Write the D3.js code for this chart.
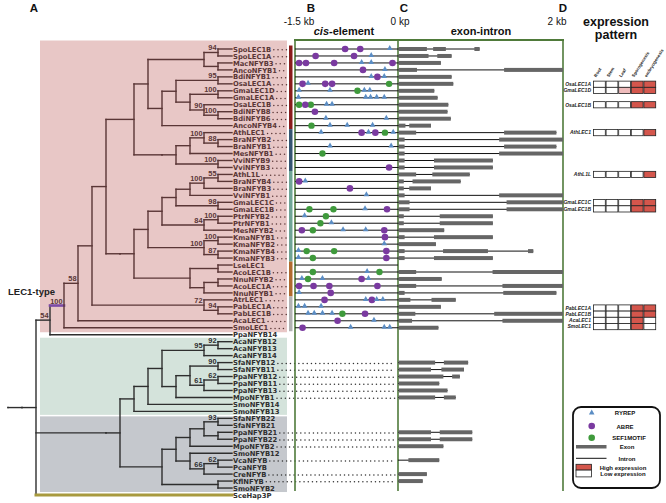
<!DOCTYPE html>
<html><head><meta charset="utf-8">
<script src="https://cdn.jsdelivr.net/npm/d3@7"></script>
<style>
body{margin:0;background:#fff}
svg{display:block}
text{font-family:"Liberation Sans",Arial,sans-serif}
.lbl{font-family:"DejaVu Sans",sans-serif}
</style>
</head><body>
<svg id="chart" width="666" height="503"></svg>
<script>
// ---------------- DATA ----------------
const leafNames = ["SpoLEC1B","SpoLEC1A","MacNFYB3","AncoNFYB1","BdiNFYB1","OsaLEC1A","GmaLEC1D","GmaLEC1A","OsaLEC1B","BdiNFYB8","BdiNFYB6","AncoNFYB4","AthLEC1","BraNFYB2","BraNFYB1","MesNFYB1","VviNFYB9","VviNFYB3","AthL1L","BraNFYB4","BraNFYB3","VviNFYB1","GmaLEC1C","GmaLEC1B","PtrNFYB2","PtrNFYB1","MesNFYB2","KmaNFYB1","KmaNFYB2","KmaNFYB4","KmaNFYB3","LseLEC1","AcoLEC1B","NnuNFYB2","AcoLEC1A","NnuNFYB1","AtrLEC1","PabLEC1A","PabLEC1B","AcaLEC1","SmoLEC1","PpaNFYB14","AcaNFYB12","AcaNFYB13","AcaNFYB14","SfaNFYB12","SfaNFYB11","PpaNFYB12","PpaNFYB11","PpaNFYB13","MpoNFYB1","SmoNFYB14","SmoNFYB13","SfaNFYB22","SfaNFYB21","PpaNFYB21","PpaNFYB22","MpoNFYB2","SmoNFYB12","VcaNFYB","PcaNFYB","CreNFYB","KflNFYB","SmoNFYB2","SceHap3P"];

// tree topology with bootstrap support as internal labels
const treeNewick = "((((((((((((SpoLEC1B,SpoLEC1A)94,(MacNFYB3,AncoNFYB1)),(((BdiNFYB1,OsaLEC1A)95,((GmaLEC1D,GmaLEC1A)100,(OsaLEC1B,(BdiNFYB8,BdiNFYB6)100)90)),AncoNFYB4)),((((AthLEC1,(BraNFYB2,BraNFYB1)88)100,MesNFYB1),(VviNFYB9,VviNFYB3)100))),((((((((AthL1L,BraNFYB4)55,BraNFYB3)100,VviNFYB1),(GmaLEC1C,GmaLEC1B)98),((PtrNFYB2,PtrNFYB1)100,MesNFYB2)84),((KmaNFYB1,KmaNFYB2)100,(KmaNFYB4,KmaNFYB3)87)100),((LseLEC1,AcoLEC1B),((NnuNFYB2,AcoLEC1A),NnuNFYB1))))),(AtrLEC1,(PabLEC1A,PabLEC1B)94)72),AcaLEC1)58,SmoLEC1)100,PpaNFYB14)54,(((((((AcaNFYB12,AcaNFYB13)92,AcaNFYB14)95,(((SfaNFYB12,SfaNFYB11)90,((PpaNFYB12,PpaNFYB11)62,PpaNFYB13)61),MpoNFYB1)),SmoNFYB14),SmoNFYB13),(((((SfaNFYB22,SfaNFYB21)93,(PpaNFYB21,PpaNFYB22)),MpoNFYB2),(SmoNFYB12,((VcaNFYB,PcaNFYB)62,CreNFYB)66)),(KflNFYB,SmoNFYB2)))),SceHap3P)";

// cis-elements (kb upstream, rows = first 41 leaves)
const ryrepSites = [[-0.12],[-0.39],[-0.53,-0.39],[-0.19],[-0.39,-0.20],[-1.31],[-1.44,-0.99,-0.49,-0.41],[-1.45,-0.47,-0.40,-0.31,-0.20],[-1.04,-0.96],[],[-1.05,-0.17],[-0.99,-0.74,-0.37],[-1.12,-0.43,-0.07],[],[-0.99,-0.10],[],[],[],[],[-1.35],[],[-0.46],[],[-0.48],[-1.36],[-0.97],[-0.80,-0.47],[],[-0.20],[-1.45],[-1.45],[],[-0.45],[-1.40,-1.10,-0.43],[],[-1.44],[-0.47,-0.31,-0.22],[-1.45,-1.36,-1.12],[-1.31,-1.22,-1.10,-0.96],[-0.35],[-0.69,-0.20,-0.12]];
const abreSites = [[-0.77,-0.55],[-1.20,-0.64],[-1.44,-1.34,-0.93,-0.08],[-0.51],[-0.30],[-1.39,-1.06,-0.96],[],[],[-1.35],[-1.21],[],[],[-0.53,-0.33],[],[],[],[],[-0.13],[],[-1.44],[-0.70],[],[],[-0.16],[],[],[-1.40,-0.20],[-0.19],[],[-0.17],[-0.17],[],[],[-0.53],[-1.44,-1.23,-1.00,-0.30],[-0.98],[-1.07,-0.38],[],[-0.48],[-0.88],[-1.39]];
const sef1Sites = [[],[],[],[],[],[-0.13],[-0.59],[],[-1.44,-1.27],[],[],[-1.26],[-0.19],[],[],[-1.10],[],[],[],[],[],[],[],[-1.29,-0.94],[-1.05],[-1.13],[-1.24],[],[],[-1.33,-0.93],[-1.24],[],[-1.24,-0.27],[-1.31],[],[],[],[],[-0.81],[],[]];

// exon positions (kb from ATG) per gene
const exonGenes = ["SpoLEC1B","SpoLEC1A","MacNFYB3","AncoNFYB1","BdiNFYB1","OsaLEC1A","GmaLEC1D","GmaLEC1A","OsaLEC1B","BdiNFYB8","BdiNFYB6","AncoNFYB4","AthLEC1","BraNFYB2","BraNFYB1","MesNFYB1","VviNFYB9","VviNFYB3","AthL1L","BraNFYB4","BraNFYB3","VviNFYB1","GmaLEC1C","GmaLEC1B","PtrNFYB2","PtrNFYB1","MesNFYB2","KmaNFYB1","KmaNFYB2","KmaNFYB4","KmaNFYB3","AcoLEC1B","NnuNFYB2","AcoLEC1A","NnuNFYB1","AtrLEC1","PabLEC1A","PabLEC1B","AcaLEC1","SmoLEC1","SfaNFYB12","SfaNFYB11","PpaNFYB12","PpaNFYB11","PpaNFYB13","MpoNFYB1","PpaNFYB21","PpaNFYB22","MpoNFYB2","VcaNFYB","CreNFYB","KflNFYB"];
const exonSpans = [
 [[0,0.35],[0.42,0.58],[0.92,0.99]],[[0,0.37],[0.47,0.65]],[[0,0.52]],[[0,0.23],[1.28,2.0]],[[0,0.65]],[[0,0.67]],[[0,0.44]],[[0,0.48]],[[0,0.61]],[[0,0.60]],[[0,0.64]],[[0,0.09],[0.13,0.40]],
 [[0,0.22],[1.28,1.92]],[[0,0.08],[1.22,2.0]],[[0,0.08],[1.28,1.92]],[[0,0.08],[1.22,2.0]],[[0,0.08],[0.43,1.15]],[[0,0.08],[0.43,1.15]],[[0,0.22],[0.41,0.87]],[[0,0.07],[0.17,0.76]],[[0,0.07],[0.13,0.40]],[[0,0.08],[1.22,2.0]],[[0,0.14],[1.31,2.0]],[[0,0.14],[1.31,2.0]],
 [[0,0.07],[0.50,1.15]],[[0,0.07],[0.50,1.15]],[[0,0.56]],[[0,0.08],[0.43,1.15]],[[0,0.46]],[[0,0.08],[0.54,1.09],[1.57,1.64]],[[0,0.08],[0.43,1.15]],
 [[0,0.22],[1.14,2.0]],[[0,0.53]],[[0,0.22],[1.26,2.0]],[[0,0.08],[1.27,1.92]],[[0,0.15],[0.40,0.70]],[[0,0.52]],[[0,0.21],[1.16,2.0]],[[0,0.17],[1.26,2.0]],[[0,0.49]],
 [[0,0.45],[0.55,0.85]],[[0,0.40],[0.52,0.80]],[[0,0.55],[0.65,0.75]],[[0,0.50]],[[0,0.60]],[[0,0.45],[0.55,0.70]],
 [[0,0.40],[0.50,0.90]],[[0,0.40],[0.50,0.90]],[[0,0.55]],[[0.12,0.50]],[[0,0.35]],[[0,0.30]]
];

// clade colour strip groups (first row index, last row index)
const stripGroups = [[0,11],[12,17],[18,30],[31,35],[36,40]];

// expression pattern
const exprTissues = ["Root","Stem","Leaf","Sporogenesis","embryogenesis"];
const exprGenes = ["OsaLEC1A","GmaLEC1D","OsaLEC1B","AthLEC1","AthL1L","GmaLEC1C","GmaLEC1B","PabLEC1A","PabLEC1B","AcaLEC1","SmoLEC1"];
const exprValues = [[0,0,0,1,1],[0,0,0.5,1,1],[0,0,0,1,1],[0,0,0,0,1],[0,0,0,0,1],[0,0,0,1,1],[0,0,0,1,1],[0,0,0,1,1],[0,0,0,1,1],[0,0,0,1,0],[0,0,0,1,0]];

// ---------------- CHART ----------------
const svg = d3.select("#chart");
const C = {brown:"#5a3636", dark:"#2e2e2e", pink:"#e8c7c6", green:"#d4e3db", gray:"#c5c8cd",
  frame:"#4f7a3a", exon:"#666666", tri:"#5b8dc4", abre:"#7a3aa0", sef:"#3f9a3c", red:"#d4564c"};
const strips = ["#8a1c1c","#355571","#6fa596","#b06a2e","#b3b3b3"];

const yRow = d3.scaleLinear().domain([0,64]).range([49,495]);
const rowOf = new Map(leafNames.map((n,i)=>[n,i]));

function parseNewick(s){
  let i=0;
  function node(){
    const n={};
    if(s[i]==='('){
      n.children=[]; i++;
      n.children.push(node());
      while(s[i]===','){i++; n.children.push(node());}
      i++;
    }
    let lab='';
    while(i<s.length && !',()'.includes(s[i])) lab+=s[i++];
    if(n.children){ if(lab) n.support=+lab; } else n.name=lab;
    return n;
  }
  return node();
}
const root = d3.hierarchy(parseNewick(treeNewick));
const maxH = root.height;
const xTree = d3.scaleLinear().domain([maxH,0]).range([8,232]);
root.eachAfter(d=>{
  d.x = xTree(d.height);
  if(!d.children) d.y = yRow(rowOf.get(d.data.name));
  else d.y = d3.mean([d.children[0].y, d.children[d.children.length-1].y]);
});
const lec1Node = root.leaves().find(l=>l.data.name==="SpoLEC1B").ancestors().find(a=>a.leaves().some(l=>l.data.name==="SmoLEC1"));
const inLec1 = new Set(lec1Node.descendants());

// backgrounds
const bgX0 = 40, bgX1 = 287;
svg.append("rect").attr("x",bgX0).attr("y",40.5).attr("width",bgX1-bgX0).attr("height",yRow(40)+4.5-40.5).attr("fill",C.pink);
svg.append("rect").attr("x",bgX0).attr("y",yRow(41)+3).attr("width",bgX1-bgX0).attr("height",yRow(52)+3.5-(yRow(41)+3)).attr("fill",C.green);
svg.append("rect").attr("x",bgX0).attr("y",yRow(52)+5).attr("width",bgX1-bgX0).attr("height",yRow(63)+4-(yRow(52)+5)).attr("fill",C.gray);

// strips
stripGroups.forEach((g,i)=>{
  svg.append("rect").attr("x",289).attr("width",3.5)
    .attr("y",yRow(g[0])-3.5).attr("height",yRow(g[1])-yRow(g[0])+7).attr("fill",strips[i]);
});

// tree branches
const gT = svg.append("g").attr("fill","none").attr("stroke-linecap","square");
root.descendants().forEach(d=>{
  const col = inLec1.has(d) ? C.brown : C.dark;
  if(d.parent){
    let stroke = inLec1.has(d)&&d!==lec1Node ? C.brown : C.dark, w=1.4;
    if(d===lec1Node){stroke="#7b4aa6"; w=2.6;}
    if(d.data.name==="SceHap3P"){stroke="#a89a3e"; w=3;}
    gT.append("line").attr("x1",d.parent.x).attr("x2",d.x).attr("y1",d.y).attr("y2",d.y)
      .attr("stroke",stroke).attr("stroke-width",w);
  }
  if(d.children){
    gT.append("line").attr("x1",d.x).attr("x2",d.x)
      .attr("y1",d.children[0].y).attr("y2",d.children[d.children.length-1].y)
      .attr("stroke",col).attr("stroke-width",1.4);
  }
});
root.descendants().filter(d=>d.data.support!=null).forEach(d=>{
  svg.append("text").attr("x",d.x-1.5).attr("y",d.y-2).attr("text-anchor","end")
    .attr("font-size",7.4).attr("font-weight","bold")
    .attr("fill",inLec1.has(d)||d===lec1Node.parent ? C.brown : C.dark).text(d.data.support);
});
svg.append("text").attr("x",55).attr("y",295).attr("text-anchor","end").attr("font-size",9.5)
  .attr("font-weight","bold").attr("fill","#222").text("LEC1-type");

// leaf labels + leader dots
const exonMap = new Map(exonGenes.map((g,i)=>[g,exonSpans[i]]));
root.leaves().forEach(l=>{
  const r = rowOf.get(l.data.name);
  const t = svg.append("text").attr("class","lbl").attr("x",l.x+1).attr("y",l.y+2.6).attr("font-size",6.8)
    .attr("font-weight","bold").attr("fill", r<=40 ? C.brown : C.dark).text(l.data.name);
  if(exonMap.has(l.data.name)){
    const end = l.x+1+t.node().getComputedTextLength();
    const lim = r<=40 ? 287 : 395;
    for(let x=end+2.5; x<=lim; x+=4.2){
      svg.append("circle").attr("cx",x).attr("cy",l.y+0.8).attr("r",0.75).attr("fill",r<=40?C.brown:"#333");
    }
  }
});

// frames for B and C
const xCis = d3.scaleLinear().domain([-1.5,0]).range([295,398]);
const xGene = d3.scaleLinear().domain([0,2]).range([398,563]);
const fr = svg.append("g").attr("stroke",C.frame).attr("stroke-width",1.6);
fr.append("line").attr("x1",294).attr("x2",564).attr("y1",40).attr("y2",40).attr("stroke-width",2.2);
[xCis(-1.5), xCis(0), xGene(2)].forEach(x=>fr.append("line").attr("x1",x).attr("x2",x).attr("y1",40).attr("y2",491));

// B rows
const gB = svg.append("g");
for(let r=0;r<=40;r++){
  const y = yRow(r);
  gB.append("line").attr("x1",xCis(-1.5)).attr("x2",xCis(0)).attr("y1",y).attr("y2",y).attr("stroke","#111").attr("stroke-width",1);
}
for(let r=0;r<=40;r++){
  const y = yRow(r);
  sef1Sites[r].forEach(k=>gB.append("circle").attr("cx",xCis(k)).attr("cy",y).attr("r",3.2).attr("fill",C.sef));
  abreSites[r].forEach(k=>gB.append("circle").attr("cx",xCis(k)).attr("cy",y).attr("r",3.3).attr("fill",C.abre));
  ryrepSites[r].forEach(k=>gB.append("path").attr("d",`M${xCis(k)},${y-4}l2.8,5h-5.6z`).attr("fill",C.tri));
}

// C rows
const gC = svg.append("g");
exonGenes.forEach((g,i)=>{
  const y = yRow(rowOf.get(g));
  const sp = exonSpans[i];
  const last = sp[sp.length-1][1];
  gC.append("line").attr("x1",xGene(0)).attr("x2",xGene(last)).attr("y1",y).attr("y2",y).attr("stroke","#111").attr("stroke-width",1);
  sp.forEach(s=>gC.append("rect").attr("x",xGene(s[0])+0.5).attr("width",xGene(s[1])-xGene(s[0])-0.5)
    .attr("y",y-2).attr("height",4).attr("fill",C.exon));
});

// headers
const hd = svg.append("g").attr("fill","#111");
[["A",34],["B",311],["C",404],["D",563]].forEach(([t,x])=>hd.append("text").attr("x",x).attr("y",12)
  .attr("text-anchor","middle").attr("font-size",11.5).attr("font-weight","bold").text(t));
hd.append("text").attr("x",299).attr("y",24.5).attr("text-anchor","middle").attr("font-size",10).text("-1.5 kb");
hd.append("text").attr("x",400).attr("y",24.5).attr("text-anchor","middle").attr("font-size",10).text("0 kp");
hd.append("text").attr("x",557).attr("y",24.5).attr("text-anchor","middle").attr("font-size",10).text("2 kb");
const ce = hd.append("text").attr("x",344).attr("y",35).attr("text-anchor","middle").attr("font-size",11).attr("font-weight","bold");
ce.append("tspan").attr("font-style","italic").text("cis");
ce.append("tspan").text("-element");
hd.append("text").attr("x",481).attr("y",35).attr("text-anchor","middle").attr("font-size",11).attr("font-weight","bold").text("exon-intron");
hd.append("text").attr("x",616).attr("y",26).attr("text-anchor","middle").attr("font-size",12.5).attr("font-weight","bold").text("expression");
hd.append("text").attr("x",616).attr("y",39).attr("text-anchor","middle").attr("font-size",12.5).attr("font-weight","bold").text("pattern");

// expression grid
const xE = d3.scaleBand().domain(exprTissues).range([593.5,656.5]);
const cellH = 6.2;
const gD = svg.append("g");
exprTissues.forEach((t,j)=>{
  gD.append("text").attr("transform",`translate(${xE(t)+xE.bandwidth()/2-3.5},${77.5}) rotate(-58)`)
    .attr("font-size",4.4).attr("font-weight","bold").attr("fill","#222").text(t);
});
const groups=[];
exprGenes.forEach((g,i)=>{
  const r=rowOf.get(g);
  const last=groups[groups.length-1];
  if(last && r===last.rows[last.rows.length-1].r+1) last.rows.push({g,i,r}); else groups.push({rows:[{g,i,r}]});
});
groups.forEach(gr=>{
  const c = d3.mean(gr.rows,d=>yRow(d.r));
  const top = c - gr.rows.length*cellH/2;
  gr.rows.forEach((d,k)=>{
    const y0 = top + k*cellH;
    exprTissues.forEach((t,j)=>{
      const v = exprValues[d.i][j];
      gD.append("rect").attr("x",xE(t)).attr("y",y0).attr("width",xE.bandwidth()-0.8).attr("height",cellH)
        .attr("fill", v===1?C.red:(v>0?"#efbcbc":"#fff")).attr("stroke","#222").attr("stroke-width",0.8);
    });
    gD.append("text").attr("x",591).attr("y",y0+cellH/2+1.8).attr("text-anchor","end")
      .attr("font-size",5).attr("font-weight","bold").attr("font-style","italic").attr("fill","#222").text(d.g);
  });
});

// legend
const lg = svg.append("g");
lg.append("rect").attr("x",573).attr("y",407).attr("width",87).attr("height",81).attr("rx",8)
  .attr("fill","#fff").attr("stroke","#111").attr("stroke-width",1.8);
lg.append("path").attr("d","M591.7,409.5l2.8,5h-5.6z").attr("fill",C.tri);
lg.append("circle").attr("cx",591.7).attr("cy",426).attr("r",3.3).attr("fill",C.abre);
lg.append("circle").attr("cx",591.7).attr("cy",437.7).attr("r",3.3).attr("fill",C.sef);
lg.append("rect").attr("x",576).attr("y",445).attr("width",30.5).attr("height",3.5).attr("fill",C.exon);
lg.append("line").attr("x1",576).attr("x2",606.5).attr("y1",458.3).attr("y2",458.3).attr("stroke","#111").attr("stroke-width",1);
lg.append("rect").attr("x",576).attr("y",464.3).attr("width",15.5).attr("height",5.8).attr("fill",C.red).attr("stroke","#222").attr("stroke-width",0.8);
lg.append("rect").attr("x",576).attr("y",470.1).attr("width",15.5).attr("height",6.8).attr("fill","#fff").attr("stroke","#222").attr("stroke-width",0.8);
[["RYREP",625,415],["ABRE",625,428.5],["SEF1MOTIF",629,440],["Exon",627,449.3],["Intron",627,460.6],["High expression",623,470.2],["Low expression",623,476.3]]
  .forEach(([t,x,y])=>lg.append("text").attr("x",x).attr("y",y).attr("text-anchor","middle").attr("font-size",6)
    .attr("font-weight","bold").attr("fill","#111").text(t));
</script>
</body></html>
